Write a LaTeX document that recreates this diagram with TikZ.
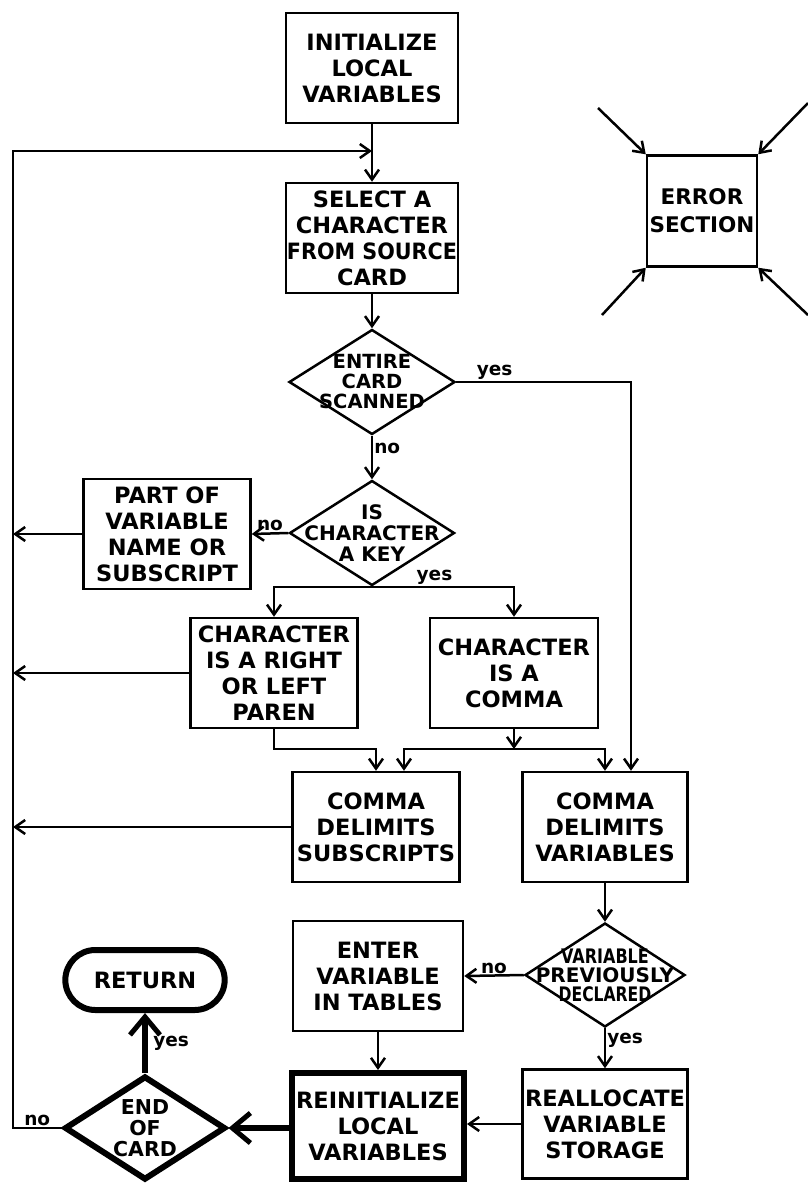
\documentclass[tikz,border=0pt]{standalone}
\usepackage{fontspec}
\setmainfont{DejaVu Sans}
\usetikzlibrary{shapes.geometric,shapes.misc,arrows.meta}

\begin{document}
\begin{tikzpicture}[x=1pt, y=-1pt,
    every node/.style={font=\bfseries\fontsize{22.5}{26}\selectfont},
    box/.style={draw, line width=2.5pt, minimum width=168pt, minimum height=110pt, align=center, inner sep=1pt},
    decision/.style={draw, diamond, line width=2.5pt, minimum width=165pt, minimum height=105pt, inner sep=0pt},
    dtext/.style={align=center, inner sep=0pt, font=\bfseries\fontsize{19.5}{20}\selectfont},
    lbl/.style={inner sep=1pt, font=\bfseries\fontsize{18.5}{20}\selectfont},
    arr/.style={line width=2.5pt, -{Straight Barb[length=10pt,width=14pt,line width=2.5pt]}},
    fat/.style={line width=6.5pt, -{Straight Barb[length=18pt,width=30pt,line width=5pt]}}]
    \useasboundingbox (0,0) rectangle (808,1184);

    % main column
    \node[box, minimum width=172pt] (init) at (372,68) {INITIALIZE\\LOCAL\\VARIABLES};
    \node[box, minimum width=170pt] (sel) at (372,238) {SELECT A\\CHARACTER\\\scalebox{0.92}[1]{FROM SOURCE}\\CARD};
    \node[decision, minimum width=166pt] (scan) at (372,382) {};
    \node[dtext] (scantxt) at (scan) {ENTIRE\\CARD\\SCANNED};
    \node[decision] (key) at (372,533) {};
    \node[dtext, font=\bfseries\fontsize{20}{21}\selectfont] (keytxt) at (key) {IS\\CHARACTER\\A KEY};
    \node[box, minimum width=167pt] (part) at (167,534) {PART OF\\VARIABLE\\NAME OR\\SUBSCRIPT};
    \node[box, minimum width=167pt] (right) at (274,673) {CHARACTER\\IS A RIGHT\\OR LEFT\\PAREN};
    \node[box] (comma) at (514,673) {CHARACTER\\IS A\\COMMA};
    \node[box, minimum width=167pt] (subs) at (376,827) {COMMA\\DELIMITS\\SUBSCRIPTS};
    \node[box, minimum width=165pt] (vars) at (605,827) {COMMA\\DELIMITS\\VARIABLES};

    % lower part
    \node[decision, minimum width=160pt, minimum height=104pt] (prev) at (605,975) {};
    \node[dtext, font=\bfseries\fontsize{20}{19}\selectfont] (prevtxt) at (prev)
        {\scalebox{0.8}[1]{VARIABLE}\\PREVIOUSLY\\\scalebox{0.78}[1]{DECLARED}};
    \node[box, minimum width=170pt] (enter) at (378,976) {ENTER\\VARIABLE\\IN TABLES};
    \node[box, minimum width=165pt, minimum height=109pt] (realloc) at (605,1124) {REALLOCATE\\VARIABLE\\STORAGE};
    \node[box, line width=6pt, minimum width=172pt, minimum height=106pt] (reinit) at (378,1126) {REINITIALIZE\\LOCAL\\VARIABLES};
    \node[decision, line width=6pt, minimum width=161pt, minimum height=104pt] (endc) at (145,1128) {};
    \node[dtext, font=\bfseries\fontsize{20.5}{21}\selectfont] (endtxt) at (endc) {END\\OF\\CARD};
    \node[draw, rounded rectangle, line width=6pt, minimum width=166pt, minimum height=60pt] (ret) at (145,980) {RETURN};

    % error section
    \node[box, minimum width=110pt, minimum height=111pt, font=\bfseries\fontsize{21.5}{28}\selectfont] (err) at (702,211) {ERROR\\SECTION};
    \coordinate (e1) at (598,108);
    \coordinate (e2) at (808,103);
    \coordinate (e3) at (602,315);
    \coordinate (e4) at (808,315);
    \draw[arr] (e1) -- (err.north west);
    \draw[arr] (e2) -- (err.north east);
    \draw[arr] (e3) -- (err.south west);
    \draw[arr] (e4) -- (err.south east);

    % flow lines
    \coordinate (lp) at (13,151);
    \coordinate (jn) at (0,749);
    \draw[arr] (init) -- (sel);
    \draw[arr] (sel) -- (scan);
    \draw[arr] (scan.east) -| node[lbl, above, pos=0.11] (yes1) {yes} ([xshift=26pt]vars.north);
    \draw[arr] (scan.south) -- node[lbl, right, pos=0.3] (no1) {no} (key.north);
    \draw[arr] (key.west) -- node[lbl, above] (no2) {no} (part.east);
    \draw[arr] (key.south) -| node[lbl, above, pos=0.22] (yes2) {yes} (comma.north);
    \draw[arr] (key.south) -| (right.north);
    \draw[arr] (right.south) |- (subs.north |- jn) -- (subs.north);
    \draw[arr] (comma.south) -- (comma.south |- jn);
    \draw[arr] (comma.south |- jn) -| ([xshift=28pt]subs.north);
    \draw[arr] (comma.south |- jn) -| (vars.north);
    \draw[arr] (vars) -- (prev);
    \draw[arr] (prev.west) -- node[lbl, above] (no3) {no} (enter.east);
    \draw[arr] (prev.south) -- node[lbl, right, pos=0.3] (yes3) {yes} (realloc.north);
    \draw[arr] (enter) -- (reinit);
    \draw[arr] (realloc.west) -- (reinit.east |- realloc.west);
    \draw[fat] (reinit.west |- endc.east) -- (endc.east);
    \draw[fat] (endc.north) -- node[lbl, right=4pt] (yes4) {yes} (ret.south);

    % back to the top
    \draw[arr] (part.west) -- (part.west -| lp);
    \draw[arr] (right.west) -- (right.west -| lp);
    \draw[arr] (subs.west) -- (subs.west -| lp);
    \draw[arr] (endc.west) -- node[lbl, above] (no4) {no} (endc.west -| lp) -- (lp) -- (lp -| sel.north);
\end{tikzpicture}
\end{document}
